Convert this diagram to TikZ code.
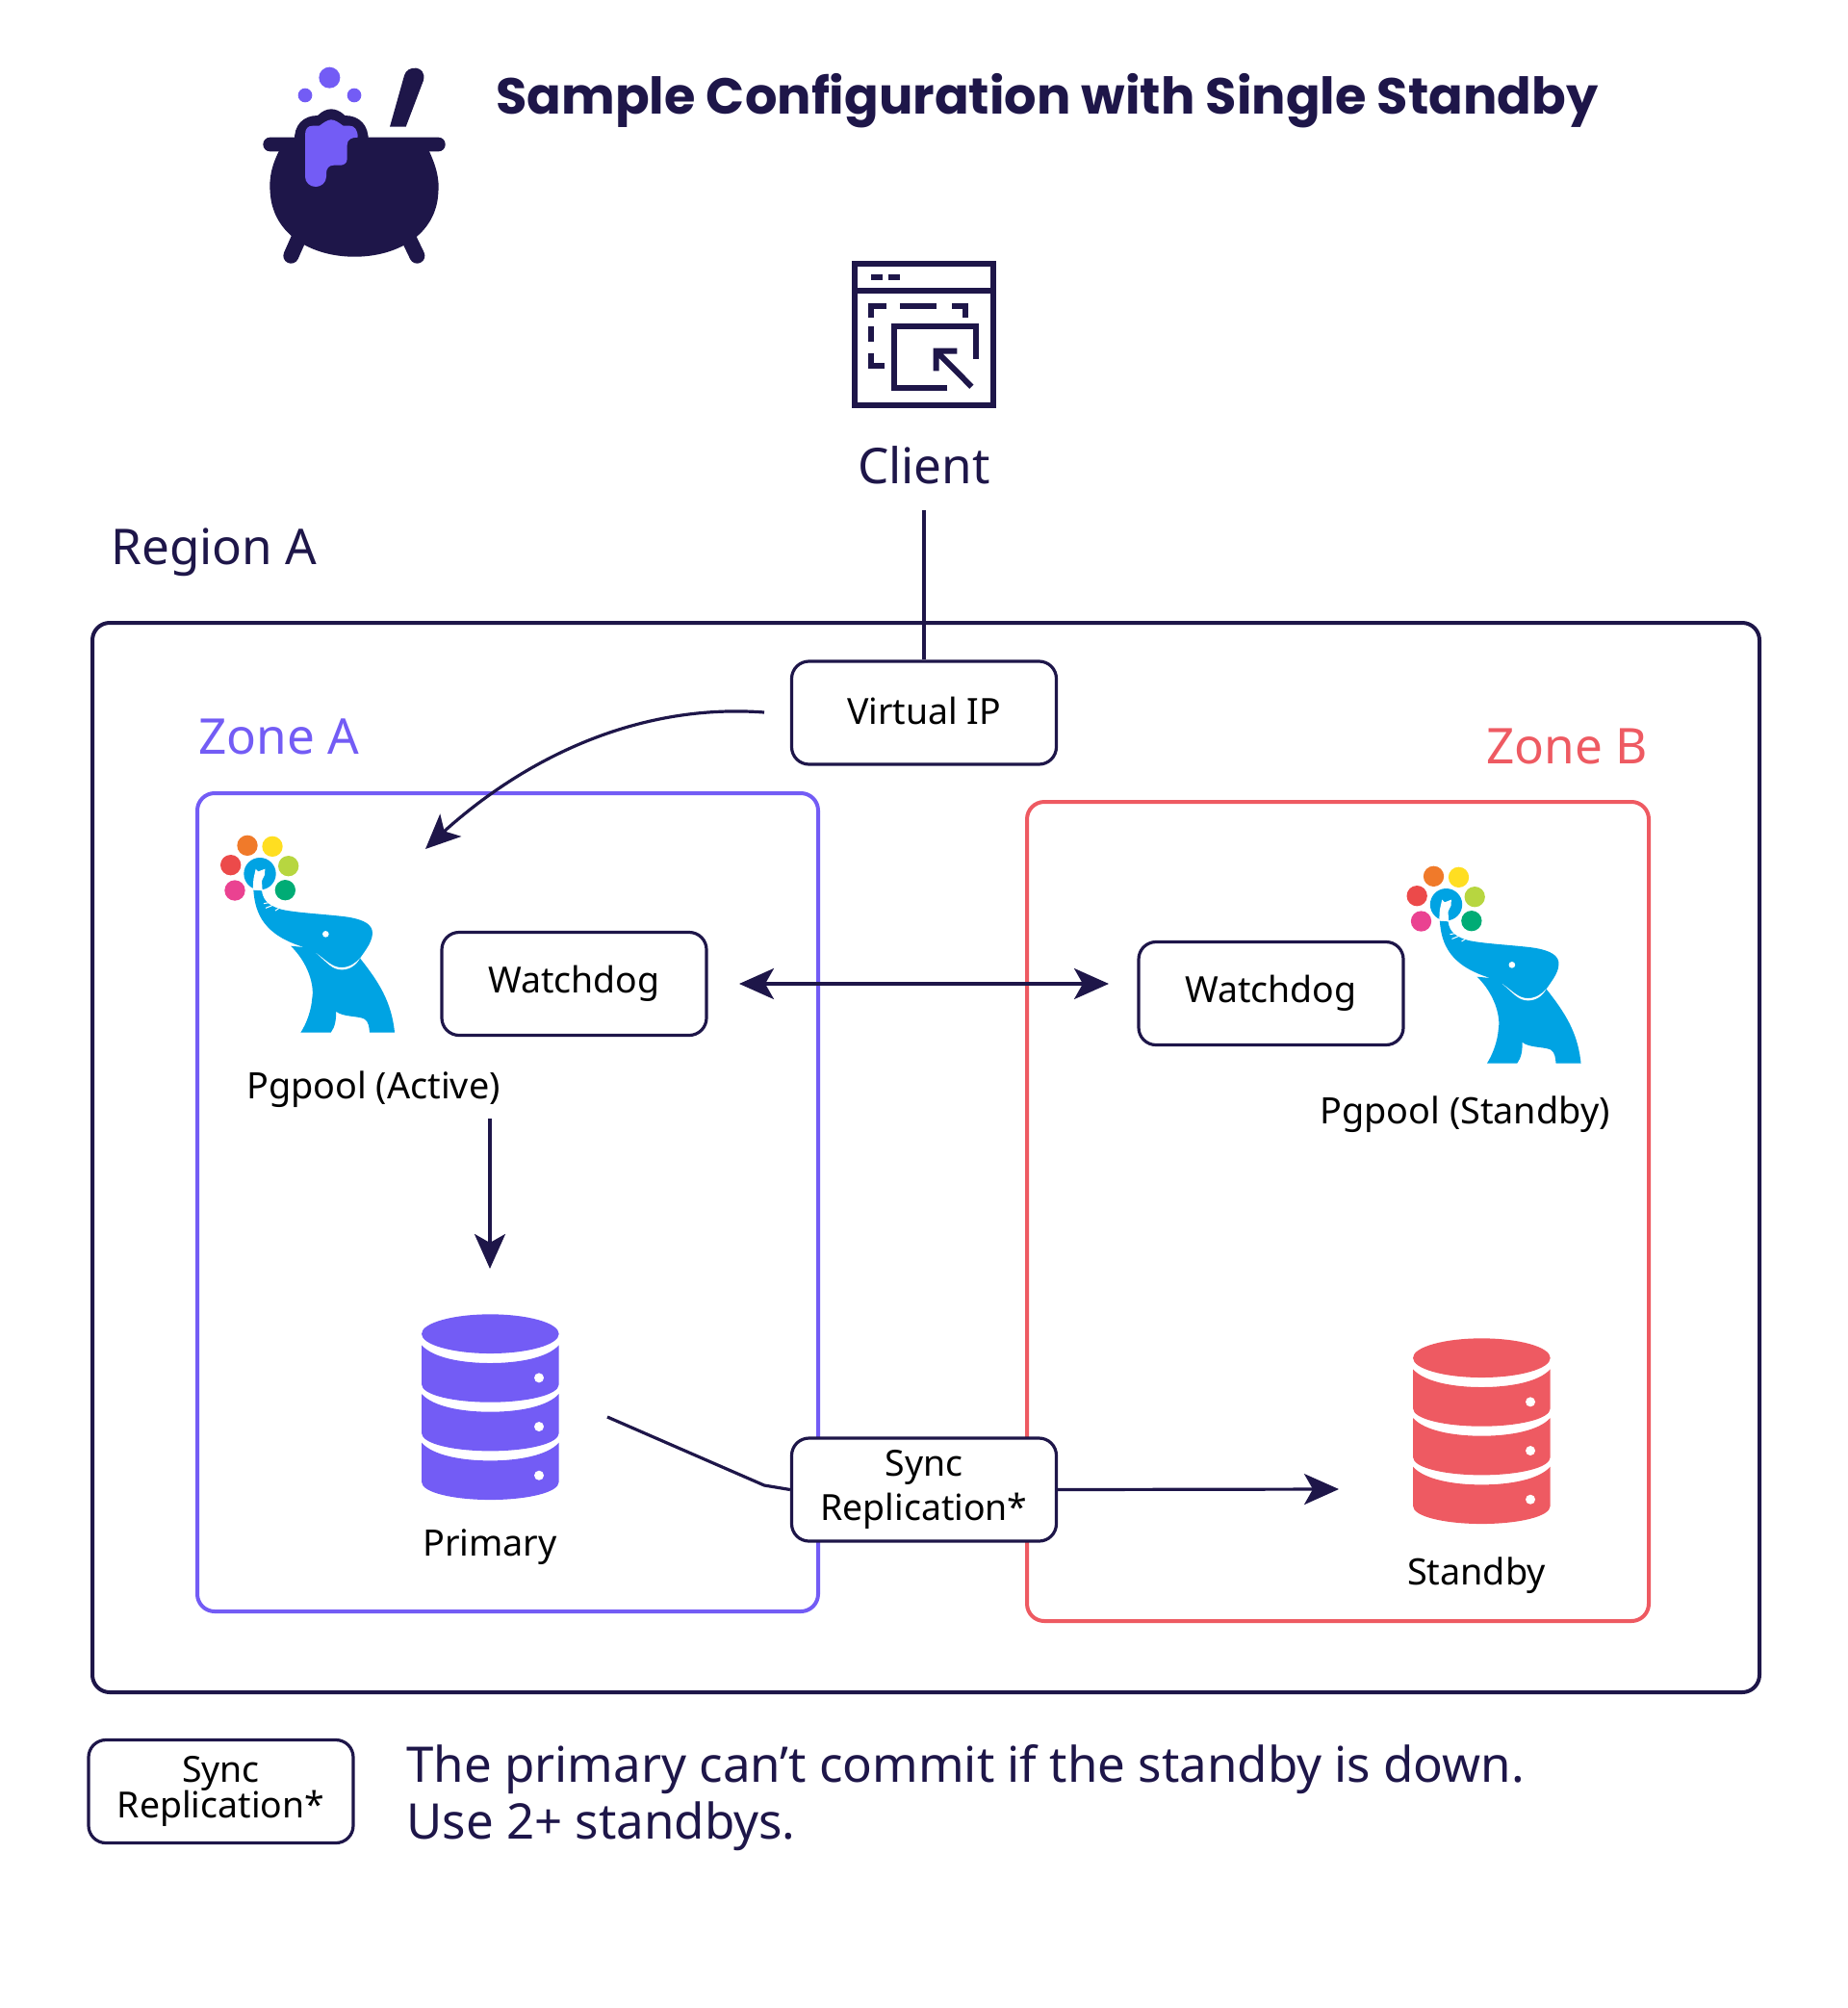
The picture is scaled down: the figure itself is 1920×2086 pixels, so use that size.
\documentclass[tikz,border=0pt]{standalone}
\usepackage{fontspec}
\setmainfont{Noto Sans}
\newfontfamily\titlefont{Poppins}
\usetikzlibrary{arrows.meta,bending}
\definecolor{ink}{HTML}{1E1649}
\definecolor{violet}{HTML}{735CF5}
\definecolor{coral}{HTML}{EE5A62}
\definecolor{eleblue}{HTML}{00A3E3}
\definecolor{dotred}{HTML}{EC4A4A}
\definecolor{dotorange}{HTML}{F07A2A}
\definecolor{dotyellow}{HTML}{FFDE21}
\definecolor{dotlime}{HTML}{B7D640}
\definecolor{dotgreen}{HTML}{00AC75}
\definecolor{dotpink}{HTML}{EA4291}
\newcommand{\fsize}[1]{\fontsize{#1}{#1}\selectfont}
\tikzset{
  boxnode/.style={draw=ink,line width=1.6pt,rounded corners=9pt,minimum width=137.5pt,minimum height=53.5pt,inner sep=0pt,align=center,text=black,font=\fsize{18.7}},
  zonebox/.style={line width=2pt,rounded corners=9pt},
  lbl/.style={inner sep=0pt,text=black,font=\fsize{18.9},anchor=center},
  biglbl/.style={inner sep=0pt,text=ink,font=\fsize{25.6}},
  conn/.style={draw=ink,line width=1.6pt},
  tip/.style={-{Stealth[length=18pt,width=16pt,inset=4.5pt]}},
  pics/elephant/.style={code={
    \begin{scope}[x=0.1667pt,y=-0.1667pt]
      \fill[dotred] (89,146) circle (32);
      \fill[dotorange] (141,85) circle (32);
      \fill[dotyellow] (219,88) circle (32);
      \fill[dotlime] (269,149) circle (32);
      \fill[dotgreen] (259,224) circle (32);
      \fill[dotpink] (102,225) circle (32);
      \fill[eleblue] (180,173) circle (50);
      \fill[white] (167,158) -- (175,166) -- (196,158) -- (195,176) -- (186,195) -- (188,228) -- (158,226) -- (160,190) -- cycle;
      \fill[eleblue] (160,224) .. controls (165,300) and (195,365) .. (318,402)
        -- (276,398) .. controls (330,450) and (350,520) .. (343,560)
        .. controls (340,600) and (325,640) .. (307,668) -- (401,668)
        .. controls (415,650) and (418,625) .. (417,602)
        .. controls (440,620) and (480,615) .. (505,625)
        .. controls (520,635) and (520,650) .. (522,668) -- (600,668)
        .. controls (590,570) and (550,510) .. (492,436)
        .. controls (470,465) and (430,475) .. (405,458) -- (355,420)
        .. controls (390,455) and (400,470) .. (435,470)
        .. controls (470,470) and (490,435) .. (492,436)
        .. controls (510,410) and (535,380) .. (530,350)
        .. controls (525,325) and (490,312) .. (440,306)
        .. controls (370,298) and (300,295) .. (250,285)
        .. controls (215,275) and (190,262) .. (186,226) -- cycle;
      \fill[white] (385,361) circle (10);
      \fill[white] (355,420) .. controls (390,445) and (405,465) .. (435,465)
        .. controls (460,465) and (480,450) .. (492,436)
        .. controls (480,458) and (460,472) .. (435,472)
        .. controls (405,472) and (390,450) .. (355,420) -- cycle;
      \draw[white,line width=0.5pt] (192,266) -- (222,260) (198,280) -- (228,268) (228,288) -- (246,276);
    \end{scope}
  }},
  pics/dbstack/.style={code={
    \begin{scope}[x=0.1667pt,y=-0.1667pt]
      \fill (268,137) ellipse [x radius=214,y radius=61];
      \foreach \dy in {0,152,304}{
        \fill (54,172+\dy) .. controls (90,212+\dy) and (180,228+\dy) .. (268,228+\dy)
          .. controls (356,228+\dy) and (446,212+\dy) .. (482,172+\dy)
          -- (482,294+\dy) .. controls (482,328+\dy) and (380,350+\dy) .. (268,350+\dy)
          .. controls (156,350+\dy) and (54,328+\dy) .. (54,294+\dy) -- cycle;
        \fill[white] (420,274+\dy) circle (15);
      }
    \end{scope}
  }},
}
\begin{document}
\begin{tikzpicture}[x=0.5pt,y=-0.5pt]
\useasboundingbox (0,0) rectangle (1920,2086);
% cauldron logo
\begin{scope}[shift={(240,40)},x=0.1667pt,y=-0.1667pt]
  \fill[violet] (307,122) circle (33) (231,177) circle (22) (384,177) circle (22);
  \fill[ink] (495,275) -- (540,115) .. controls (548,82) and (610,82) .. (600,130) -- (545,275) -- cycle;
  \draw[ink,line width=8pt,line cap=round] (210,625) -- (187,677) (555,625) -- (580,677);
  \fill[ink,rounded corners=3.6pt] (100,308) rectangle (668,352);
  \fill[ink] (155,340) .. controls (125,395) and (118,440) .. (122,480)
     .. controls (130,610) and (250,680) .. (385,680)
     .. controls (520,680) and (640,610) .. (646,480)
     .. controls (650,440) and (640,395) .. (612,340) -- cycle;
  \fill[ink] (198,320) .. controls (195,270) and (225,240) .. (270,240)
     .. controls (285,225) and (300,220) .. (312,220)
     .. controls (325,220) and (340,225) .. (355,240)
     .. controls (400,240) and (430,270) .. (428,320) -- cycle;
  \fill[violet] (231,300) .. controls (231,280) and (240,272) .. (255,272) -- (275,272)
     .. controls (290,262) and (300,253) .. (312,253)
     .. controls (325,253) and (335,262) .. (350,272) -- (370,272)
     .. controls (385,272) and (395,285) .. (395,308)
     .. controls (375,308) and (362,315) .. (362,332) -- (362,375)
     .. controls (362,390) and (350,395) .. (340,395) -- (320,395)
     .. controls (305,395) and (297,405) .. (297,420) -- (297,430)
     .. controls (297,450) and (280,462) .. (264,462)
     .. controls (245,462) and (231,448) .. (231,430) -- cycle;
\end{scope}
\node[anchor=west,inner sep=0pt,text=ink,font=\titlefont\fsize{26.3}\bfseries] (title) at (515,105) {Sample Configuration with Single Standby};
% client icon
\begin{scope}[shift={(860,250)},x=0.1667pt,y=-0.1667pt]
  \draw[ink,line width=3pt] (84,72) rectangle (515,512) (84,156) -- (515,156);
  \draw[ink,line width=3pt] (136,113) -- (171,113) (190,113) -- (226,113);
  \draw[ink,line width=3pt] (135,240) -- (135,205) -- (183,205) (226,205) -- (339,205) (387,205) -- (428,205) -- (428,240)
     (135,268) -- (135,316) (135,350) -- (135,390) -- (176,390);
  \draw[ink,line width=3pt] (373,460) -- (208,460) -- (208,267) -- (463,267) -- (463,368);
  \draw[ink,line width=3pt] (338,406) -- (338,344) -- (403,344) (338,344) -- (448,455);
\end{scope}
\node[biglbl] (client) at (960,483) {Client};
\node[biglbl,anchor=west] (regionlbl) at (115,574) {Region A};
% containers
\node[draw=ink,zonebox,minimum width=866pt,minimum height=555.5pt,inner sep=0pt] (region) at (962,1202.5) {};
\node[draw=violet,zonebox,minimum width=322.5pt,minimum height=425pt,inner sep=0pt] (zonea) at (527.5,1249) {};
\node[draw=coral,zonebox,minimum width=323pt,minimum height=425.5pt,inner sep=0pt] (zoneb) at (1390,1258.5) {};
\node[biglbl,text=violet,anchor=west] (zonealbl) at (206,765) {Zone A};
\node[biglbl,text=coral,anchor=east] (zoneblbl) at (1712,775) {Zone B};
% boxes
\node[boxnode,fill=white] (vip) at (960,740.5) {\raisebox{2pt}{Virtual IP}};
\node[boxnode] (wda) at (596.5,1022) {\raisebox{-2pt}{Watchdog}};
\node[boxnode] (wdb) at (1320.5,1032) {\raisebox{-1pt}{Watchdog}};
\node[boxnode,fill=white] (sync) at (960,1547.5) {Sync\\[3pt]\raisebox{-1pt}{Replication*}};
\node[boxnode] (legend) at (229.5,1861) {Sync\\[0pt]Replication*};
% elephants
\pic at (210,850) {elephant};
\pic at (1442.5,882) {elephant};
\node[lbl] (pga) at (388,1132) {Pgpool (Active)};
\node[lbl] (pgb) at (1522,1158) {Pgpool (Standby)};
% databases
\pic[violet,fill=violet] at (420,1340) {dbstack};
\pic[coral,fill=coral] at (1450,1365) {dbstack};
\node[lbl] (prim) at (509,1607) {Primary};
\node[lbl] (stby) at (1534,1637) {Standby};
% footnote
\node[anchor=west,inner sep=0pt,text=ink,font=\fsize{25.5}] (note1) at (422,1838) {The primary can’t commit if the standby is down.};
\node[anchor=west,inner sep=0pt,text=ink,font=\fsize{25.5}] (note2) at (422,1897) {Use 2+ standbys.};
% connector ends
\coordinate (c1) at (960,530);
\coordinate (vipl) at (794,740);
\coordinate (pgin) at (442,882);
\coordinate (wl) at (768,1022);
\coordinate (wr) at (1152,1022);
\coordinate (pgout) at (509,1162);
\coordinate (dbin) at (509,1318);
\coordinate (dbout) at (631,1472);
\coordinate (bend) at (794,1543);
\coordinate (stin) at (1391,1547);
% connectors
\draw[conn] (c1) -- (vip.north);
\draw[conn,tip] (vipl) .. controls (660,730) and (535,790) .. (pgin);
\draw[conn,{Stealth[length=18pt,width=16pt,inset=4.5pt]}-{Stealth[length=18pt,width=16pt,inset=4.5pt]}] (wl) -- (wr);
\draw[conn,tip] (pgout) -- (dbin);
\draw[conn] (dbout) -- (bend) -- (sync.west);
\draw[conn,tip] (sync.east) -- (stin);
\end{tikzpicture}
\end{document}
